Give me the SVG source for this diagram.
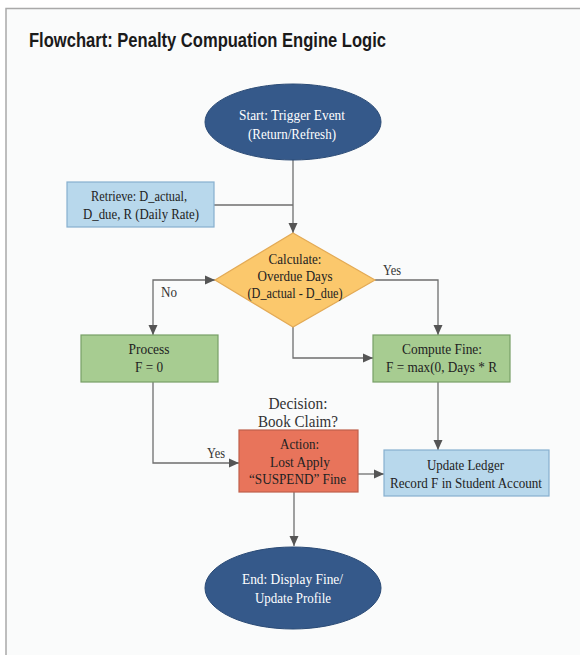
<svg xmlns="http://www.w3.org/2000/svg" width="580" height="655" viewBox="0 0 580 655">
<defs>
<style>
.t{font-family:"Liberation Serif","Times New Roman",serif;font-size:15px;fill:#222;text-anchor:middle}
.w{fill:#fff}
.lbl{font-family:"Liberation Serif","Times New Roman",serif;font-size:15px;fill:#333;text-anchor:middle}
.dec{font-family:"Liberation Serif","Times New Roman",serif;font-size:16px;fill:#333;text-anchor:middle}
.c{fill:none;stroke:#6e6e6e;stroke-width:1.3}
.blue{fill:#b8d8ec;stroke:#86b0cf;stroke-width:1.2}
.green{fill:#a7cc91;stroke:#779f66;stroke-width:1.2}
.red{fill:#e8745b;stroke:#bf604b;stroke-width:1.2}
.yel{fill:#fbc86c;stroke:#e3aa55;stroke-width:1.2}
.dark{fill:#35598a;stroke:#2b4b76;stroke-width:1}
</style>
<marker id="ah" markerUnits="userSpaceOnUse" markerWidth="10" markerHeight="10" viewBox="0 0 10 10" refX="10" refY="5" orient="auto-start-reverse">
<path d="M0 0.5 L10 5 L0 9.5 Z" fill="#555"/>
</marker>
</defs>
<rect x="0" y="0" width="580" height="655" fill="#ffffff"/>
<rect x="6" y="8.5" width="600" height="700" fill="#fafbfb" stroke="#a9a9a9" stroke-width="1.5"/>
<text x="29" y="47" font-family="'Liberation Sans',Arial,sans-serif" font-weight="bold" font-size="21" fill="#1a1a1a" textLength="357" lengthAdjust="spacingAndGlyphs">Flowchart: Penalty Compuation Engine Logic</text>

<g id="connectors">
<path class="c" d="M293 160 V233" marker-end="url(#ah)"/>
<path class="c" d="M214 205 H293"/>
<path class="c" d="M375 280 H438 V335" marker-end="url(#ah)"/>
<path class="c" d="M215 280 H153 V335" marker-start="url(#ah)" marker-end="url(#ah)"/>
<path class="c" d="M293 327 V358 H373" marker-end="url(#ah)"/>
<path class="c" d="M153 382 V463 H239" marker-end="url(#ah)"/>
<path class="c" d="M438 382 V450" marker-end="url(#ah)"/>
<path class="c" d="M358 474 H384" marker-end="url(#ah)"/>
<path class="c" d="M294 492 V546" marker-end="url(#ah)"/>
<text class="lbl" x="392" y="275" textLength="18" lengthAdjust="spacingAndGlyphs">Yes</text>
<text class="lbl" x="169" y="297" textLength="16" lengthAdjust="spacingAndGlyphs">No</text>
<text class="lbl" x="216" y="458" textLength="18" lengthAdjust="spacingAndGlyphs">Yes</text>
</g>

<g id="start">
<ellipse class="dark" cx="293" cy="122" rx="88" ry="38"/>
<text class="t w" x="292" y="120" textLength="106" lengthAdjust="spacingAndGlyphs">Start: Trigger Event</text>
<text class="t w" x="292" y="139" textLength="88" lengthAdjust="spacingAndGlyphs">(Return/Refresh)</text>
</g>

<g id="retrieve">
<rect class="blue" x="67" y="182" width="147" height="45"/>
<text class="t" x="139" y="201" textLength="96" lengthAdjust="spacingAndGlyphs">Retrieve: D_actual,</text>
<text class="t" x="141" y="219" textLength="116" lengthAdjust="spacingAndGlyphs">D_due, R (Daily Rate)</text>
</g>

<g id="calculate">
<polygon class="yel" points="293,233 375,280 293,327 215,280"/>
<text class="t" x="295" y="264" textLength="53" lengthAdjust="spacingAndGlyphs">Calculate:</text>
<text class="t" x="295" y="281" textLength="75" lengthAdjust="spacingAndGlyphs">Overdue Days</text>
<text class="t" x="295" y="298" textLength="95" lengthAdjust="spacingAndGlyphs">(D_actual - D_due)</text>
</g>

<g id="process">
<rect class="green" x="81" y="335" width="137" height="47"/>
<text class="t" x="149" y="354" textLength="41" lengthAdjust="spacingAndGlyphs">Process</text>
<text class="t" x="149" y="372" textLength="28" lengthAdjust="spacingAndGlyphs">F = 0</text>
</g>

<g id="compute">
<rect class="green" x="373" y="335" width="137" height="47"/>
<text class="t" x="442" y="354" textLength="80" lengthAdjust="spacingAndGlyphs">Compute Fine:</text>
<text class="t" x="441.5" y="372" textLength="111" lengthAdjust="spacingAndGlyphs">F = max(0, Days * R</text>
</g>

<g id="action">
<text class="dec" x="298" y="409" textLength="59" lengthAdjust="spacingAndGlyphs">Decision:</text>
<text class="dec" x="298" y="427" textLength="80" lengthAdjust="spacingAndGlyphs">Book Claim?</text>
<rect class="red" x="239" y="430" width="119" height="62"/>
<text class="t" x="299.5" y="449" textLength="39" lengthAdjust="spacingAndGlyphs">Action:</text>
<text class="t" x="300" y="467" textLength="60" lengthAdjust="spacingAndGlyphs">Lost Apply</text>
<text class="t" x="297.5" y="484" textLength="97" lengthAdjust="spacingAndGlyphs">“SUSPEND” Fine</text>
</g>

<g id="ledger">
<rect class="blue" x="384" y="450" width="165" height="46"/>
<text class="t" x="465.5" y="470" textLength="77" lengthAdjust="spacingAndGlyphs">Update Ledger</text>
<text class="t" x="466" y="488" textLength="152" lengthAdjust="spacingAndGlyphs">Record F in Student Account</text>
</g>

<g id="end">
<ellipse class="dark" cx="293" cy="588" rx="88" ry="41"/>
<text class="t w" x="292.5" y="584" textLength="101" lengthAdjust="spacingAndGlyphs">End: Display Fine/</text>
<text class="t w" x="293" y="603" textLength="76" lengthAdjust="spacingAndGlyphs">Update Profile</text>
</g>
</svg>
